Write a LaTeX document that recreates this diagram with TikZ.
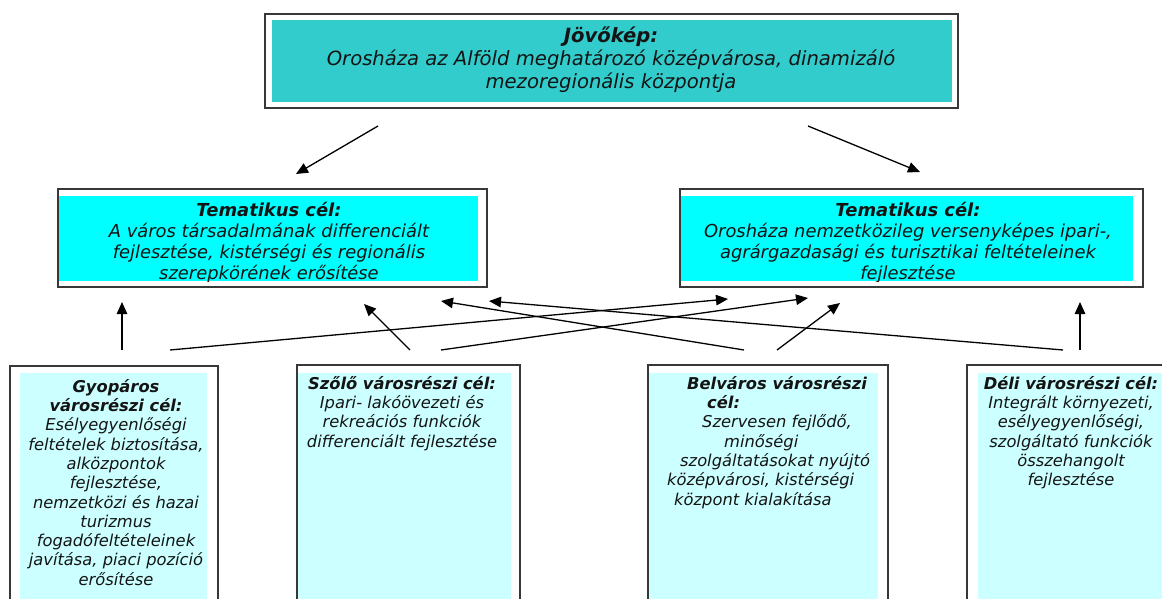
\documentclass[tikz,border=0pt]{standalone}
\usepackage{fontspec}
\setmainfont{DejaVu Sans}
\usetikzlibrary{arrows.meta}
\definecolor{tealfill}{HTML}{33CCCC}
\definecolor{cyanfill}{HTML}{00FFFF}
\definecolor{lightfill}{HTML}{CCFFFF}
\definecolor{edgecol}{HTML}{383838}
\definecolor{txtcol}{HTML}{141414}
\begin{document}
\begin{tikzpicture}[x=1pt,y=-1pt,
  frame/.style={draw=edgecol,line width=1.3pt,inner sep=0pt,rectangle},
  fillbox/.style={draw=none,inner sep=0pt,rectangle},
  topfont/.style={font=\fontsize{19.6}{23}\selectfont\itshape},
  midfont/.style={font=\fontsize{17.9}{21}\selectfont\itshape},
  botfont/.style={font=\fontsize{16.3}{19.3}\selectfont\itshape},
  txt/.style={text=txtcol,inner sep=0pt},
  arr/.style={-{Triangle[length=12pt,width=10.5pt]},line width=1.3pt,draw=black}
]
\useasboundingbox (0,0) rectangle (1162,599);
\clip (0,0) rectangle (1162,599);
\fill[white] (0,0) rectangle (1162,599);

% fills
\node[fillbox,fill=tealfill,minimum width=680pt,minimum height=82pt] (topfill) at (612,61) {};
\node[fillbox,fill=cyanfill,minimum width=419pt,minimum height=85pt] (lfill) at (268.5,238.5) {};
\node[fillbox,fill=cyanfill,minimum width=452pt,minimum height=85pt] (rfill) at (907,238.5) {};
\node[fillbox,fill=lightfill,minimum width=187pt,minimum height=247pt] (gyfill) at (113.5,496.5) {};
\node[fillbox,fill=lightfill,minimum width=213pt,minimum height=247pt] (szfill) at (404.5,496.5) {};
\node[fillbox,fill=lightfill,minimum width=229pt,minimum height=247pt] (befill) at (763.5,496.5) {};
\node[fillbox,fill=lightfill,minimum width=192pt,minimum height=247pt] (defill) at (1074,496.5) {};

% frames
\node[frame,minimum width=693pt,minimum height=94pt] (topframe) at (611.5,61) {};
\node[frame,minimum width=429pt,minimum height=98pt] (lframe) at (272.5,238) {};
\node[frame,minimum width=463pt,minimum height=98pt] (rframe) at (911.5,238) {};
\node[frame,minimum width=208pt,minimum height=254pt] (gyframe) at (114,493) {};
\node[frame,minimum width=223pt,minimum height=255pt] (szframe) at (408.5,492.5) {};
\node[frame,minimum width=240pt,minimum height=255pt] (beframe) at (768,492.5) {};
\node[frame,minimum width=213pt,minimum height=255pt] (deframe) at (1073.5,492.5) {};

% texts
\node[txt,topfont,align=center,anchor=north] (toptext) at (611,27)
  {\textbf{Jövőkép:}\\Orosháza az Alföld meghatározó középvárosa, dinamizáló\\mezoregionális központja};

\begin{scope}
\clip (59,196) rectangle (478,281);
\node[txt,midfont,align=center,anchor=north] (ltext) at (269,202)
  {\textbf{Tematikus cél:}\\A város társadalmának differenciált\\fejlesztése, kistérségi és regionális\\szerepkörének erősítése};
\end{scope}
\begin{scope}
\clip (681,196) rectangle (1133,281);
\node[txt,midfont,align=center,anchor=north] (rtext) at (908,202)
  {\textbf{Tematikus cél:}\\Orosháza nemzetközileg versenyképes ipari-,\\agrárgazdasági és turisztikai feltételeinek\\fejlesztése};
\end{scope}

\node[txt,botfont,align=center,anchor=north] (gytext) at (116,379)
  {\textbf{Gyopáros}\\\textbf{városrészi cél:}\\Esélyegyenlőségi\\feltételek biztosítása,\\alközpontok\\fejlesztése,\\nemzetközi és hazai\\turizmus\\fogadófeltételeinek\\javítása, piaci pozíció\\erősítése};
\node[txt,botfont,align=center,anchor=north] (sztext) at (402,376)
  {\textbf{Szőlő városrészi cél:}\\Ipari- lakóövezeti és\\rekreációs funkciók\\differenciált fejlesztése};
\node[txt,botfont,align=left,anchor=north west] (betext) at (667,376)
  {\hspace*{20pt}\textbf{Belváros városrészi}\\\hspace*{40pt}\textbf{cél:}\\\hspace*{35pt}Szervesen fejlődő,\\\hspace*{57pt}minőségi\\\hspace*{13pt}szolgáltatásokat nyújtó\\középvárosi, kistérségi\\\hspace*{7pt}központ kialakítása};
\node[txt,botfont,align=center,anchor=north] (detext) at (1071,376)
  {\textbf{Déli városrészi cél:}\\Integrált környezeti,\\esélyegyenlőségi,\\szolgáltató funkciók\\összehangolt\\fejlesztése};

% arrow end coordinates
\coordinate (t1s) at (378,126); \coordinate (t1e) at (296,174);
\coordinate (t2s) at (808,126); \coordinate (t2e) at (920,172);
\coordinate (b1s) at (122,350); \coordinate (b1e) at (122,302);
\coordinate (b2s) at (170,350); \coordinate (b2e) at (728,299);
\coordinate (b3s) at (410,350); \coordinate (b3e) at (364,304);
\coordinate (b4s) at (441,350); \coordinate (b4e) at (808,298);
\coordinate (b5s) at (744,350); \coordinate (b5e) at (441,301);
\coordinate (b6s) at (777,350); \coordinate (b6e) at (840,303);
\coordinate (b7s) at (1063,350); \coordinate (b7e) at (489,301);
\coordinate (b8s) at (1080,350); \coordinate (b8e) at (1080,302);

\draw[arr] (t1s) -- (t1e);
\draw[arr] (t2s) -- (t2e);
\draw[arr] (b1s) -- (b1e);
\draw[arr] (b2s) -- (b2e);
\draw[arr] (b3s) -- (b3e);
\draw[arr] (b4s) -- (b4e);
\draw[arr] (b5s) -- (b5e);
\draw[arr] (b6s) -- (b6e);
\draw[arr] (b7s) -- (b7e);
\draw[arr] (b8s) -- (b8e);
\end{tikzpicture}
\end{document}
